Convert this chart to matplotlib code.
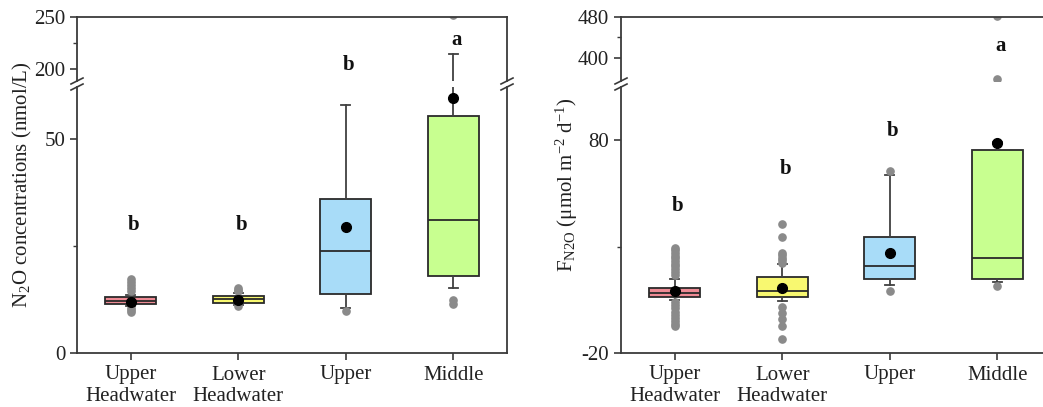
import matplotlib
matplotlib.use("Agg")
import matplotlib.pyplot as plt
from matplotlib.ticker import FixedLocator
from matplotlib.lines import Line2D

plt.rcParams['font.family'] = ['Liberation Serif', 'DejaVu Serif']
plt.rcParams['mathtext.fontset'] = 'custom'
plt.rcParams['mathtext.rm'] = 'Liberation Serif'
plt.rcParams['mathtext.it'] = 'Liberation Serif:italic'
plt.rcParams['mathtext.bf'] = 'Liberation Serif:bold'
plt.rcParams['axes.unicode_minus'] = False

# ---------------- data ----------------
categories = ["Upper\nHeadwater", "Lower\nHeadwater", "Upper", "Middle"]
box_colors = ["#EE8A94", "#F8F870", "#A8DCF8", "#C8FF90"]

# Left panel: N2O concentrations (nmol/L)
conc_med = [12.2, 12.6, 23.9, 31.0]
conc_q1 = [11.5, 11.6, 13.8, 18.0]
conc_q3 = [13.0, 13.4, 36.0, 55.5]
conc_whislo = [11.0, 11.2, 10.5, 15.3]
conc_whishi = [13.6, 14.0, 58.0, 214.0]
conc_mean = [12.0, 12.3, 29.4, 59.6]
conc_fliers = [
    [17.2, 16.6, 16.0, 15.3, 14.6, 10.6, 10.1, 9.7],
    [15.3, 14.8, 14.4, 10.9],
    [9.9],
    [12.5, 11.5, 252.0],
]
conc_letters = ["b", "b", "b", "a"]
conc_letter_y = [29.9, 29.9, 204.0, 228.0]

# Right panel: N2O flux (umol m-2 d-1)
flux_med = [8.3, 9.2, 21.0, 24.8]
flux_q1 = [6.4, 6.4, 14.9, 14.9]
flux_q3 = [10.7, 15.8, 34.3, 75.3]
flux_whislo = [5.0, 4.5, 12.1, 13.5]
flux_whishi = [14.9, 22.0, 63.5, 79.0]
flux_mean = [9.2, 10.7, 27.2, 78.6]
flux_fliers = [
    [29.5, 28.3, 27.0, 25.8, 24.5, 23.2, 22.0, 20.7, 19.4, 18.1, 16.8,
     4.0, 2.5, 1.0, -0.5, -2.0, -3.5, -5.0, -6.2, -7.3],
    [40.4, 34.3, 27.2, 26.0, 24.8, 23.6, 22.5, 1.7, -1.1, -4.2, -7.3, -13.4],
    [65.4, 9.2],
    [11.6, 358.0, 482.0],
]
flux_letters = ["b", "b", "b", "a"]
flux_letter_y = [49.3, 66.3, 84.2, 423.0]

# ---------------- figure ----------------
W, H = 1043, 407
fig = plt.figure(figsize=(W / 100, H / 100), dpi=100)

def fx(px):
    return px / W

def fy(py):
    return 1 - py / H

edge = "#2a2a2a"

def make_stats(med, q1, q3, lo, hi, mean, fliers):
    out = []
    for i in range(len(med)):
        out.append(dict(med=med[i], q1=q1[i], q3=q3[i], whislo=lo[i],
                        whishi=hi[i], mean=mean[i], fliers=fliers[i]))
    return out

def draw_panel(x0, x1, top, gap_top, gap_bot, bottom, lower_lim, upper_lim,
               lower_major, lower_minor, upper_major, upper_minor, stats,
               letters, letter_y, ylabel, ylabel_x):
    axu = fig.add_axes([fx(x0), fy(gap_top), fx(x1 - x0), fy(top) - fy(gap_top)])
    axl = fig.add_axes([fx(x0), fy(bottom), fx(x1 - x0), fy(gap_bot) - fy(bottom)])
    positions = list(range(1, len(categories) + 1))
    for ax in (axu, axl):
        bp = ax.bxp(stats, positions=positions, widths=0.47, capwidths=0.08,
                    patch_artist=True, showmeans=True, showfliers=True,
                    boxprops=dict(edgecolor=edge, linewidth=1.3),
                    medianprops=dict(color=edge, linewidth=1.3),
                    whiskerprops=dict(color="#404040", linewidth=1.3),
                    capprops=dict(color="#404040", linewidth=1.3),
                    meanprops=dict(marker="o", markerfacecolor="black",
                                   markeredgecolor="black", markersize=7),
                    flierprops=dict(marker="o", markerfacecolor="#8a8a8a",
                                    markeredgecolor="#8a8a8a", markersize=5.2))
        for patch, c in zip(bp["boxes"], box_colors):
            patch.set_facecolor(c)
        ax.set_xlim(0.5, 4.5)
        for s in ax.spines.values():
            s.set_color("#3a3a3a")
            s.set_linewidth(1.3)
        ax.tick_params(axis="both", direction="out", colors="#3a3a3a",
                       labelcolor="#222222", labelsize=15, length=5, width=1.2)
        ax.tick_params(axis="y", which="minor", direction="out", length=3,
                       width=1.0, colors="#3a3a3a")
    axl.set_ylim(*lower_lim)
    axu.set_ylim(*upper_lim)
    axl.yaxis.set_major_locator(FixedLocator(lower_major))
    axl.yaxis.set_minor_locator(FixedLocator(lower_minor))
    axu.yaxis.set_major_locator(FixedLocator(upper_major))
    axu.yaxis.set_minor_locator(FixedLocator(upper_minor))
    axu.spines["bottom"].set_visible(False)
    axl.spines["top"].set_visible(False)
    axu.tick_params(axis="x", bottom=False, labelbottom=False)
    axl.set_xticks(positions)
    axl.set_xticklabels(categories, fontsize=15, linespacing=1.15)
    axl.tick_params(axis="x", pad=4)
    # letters
    for i, (t, yv) in enumerate(zip(letters, letter_y)):
        target = axu if yv > lower_lim[1] else axl
        target.text(positions[i] + 0.03, yv, t, ha="center", va="center",
                    fontsize=15, fontweight="bold", color="#111111")
    # break marks
    mid = (gap_top + gap_bot) / 2
    for xs in (x0, x1):
        for dy in (-3.0, 3.0):
            fig.add_artist(Line2D([fx(xs - 6), fx(xs + 6)],
                                  [fy(mid + dy + 3), fy(mid + dy - 3)],
                                  color="#3a3a3a", linewidth=1.2))
    fig.text(fx(ylabel_x), fy((top + bottom) / 2), ylabel, rotation=90,
             ha="center", va="center", fontsize=15, color="#222222")
    return axu, axl

stats_c = make_stats(conc_med, conc_q1, conc_q3, conc_whislo, conc_whishi,
                     conc_mean, conc_fliers)
stats_f = make_stats(flux_med, flux_q1, flux_q3, flux_whislo, flux_whishi,
                     flux_mean, flux_fliers)

draw_panel(77, 507, 17, 81, 87, 353, (0, 62.2), (188.5, 250),
           [0, 50], [25], [200, 250], [225], stats_c,
           conc_letters, conc_letter_y,
           r"N$_{\mathrm{2}}$O concentrations (nmol/L)", 22)

draw_panel(621, 1051, 17, 81, 87, 353, (-20, 105), (355, 480),
           [-20, 80], [30], [400, 480], [440], stats_f,
           flux_letters, flux_letter_y,
           r"F$_{\mathrm{N2O}}$ (μmol m$^{\mathrm{-2}}$ d$^{\mathrm{-1}}$)", 567)

fig.savefig("out.png", dpi=100)
